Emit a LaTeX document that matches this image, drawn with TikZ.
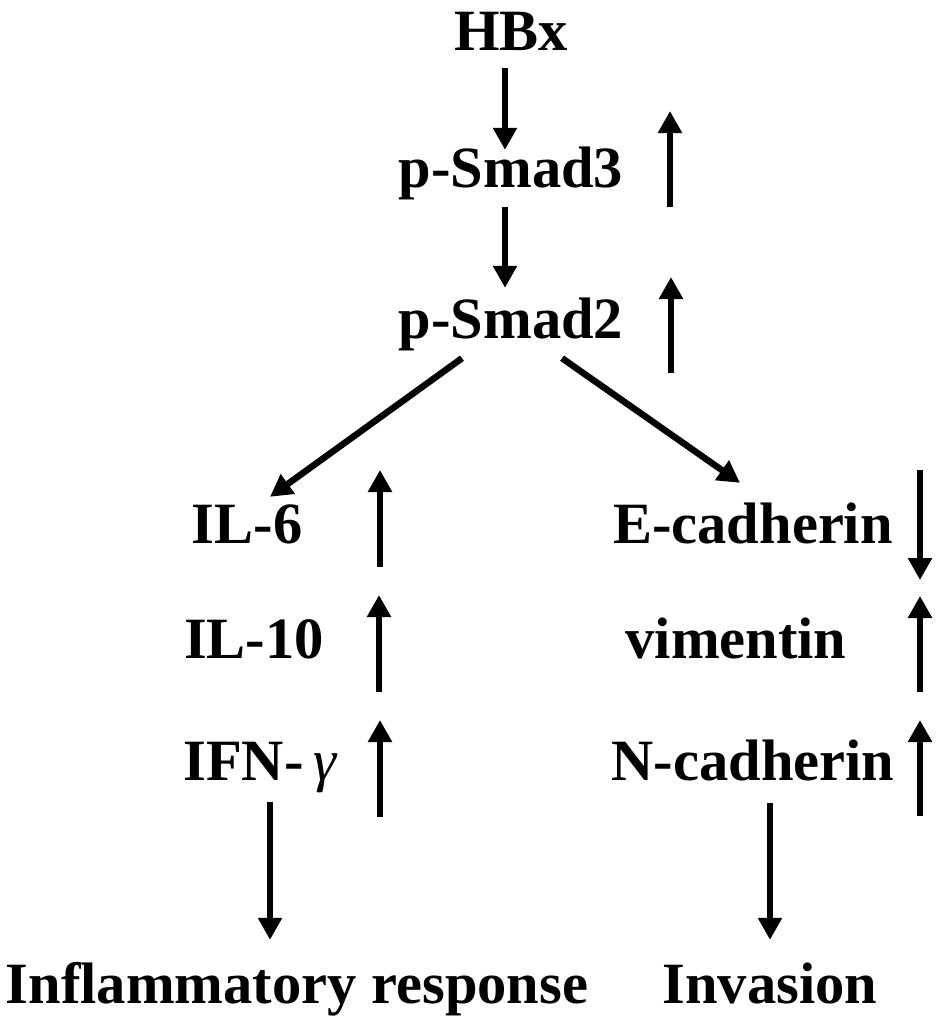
\documentclass[tikz,border=0pt]{standalone}
\usepackage{fontspec}
\setmainfont{Liberation Serif}
\usetikzlibrary{arrows.meta}
\tikzset{
  lbl/.style={font=\fontsize{58.5}{60}\selectfont\bfseries, inner sep=0pt, anchor=base,
              text height=40pt, text depth=12pt},
  arr/.style={line width=6.5pt, -{Triangle[width=23pt,length=22pt]}},
  ind/.style={line width=6.5pt, -{Triangle[width=23pt,length=22pt]}}
}
\begin{document}
\begin{tikzpicture}[x=1pt,y=-1pt]
\useasboundingbox (0,0) rectangle (945,1031);
% nodes
\node[lbl] (hbx)  at (511,50)   {HBx};
\node[lbl] (ps3)  at (511,187)  {p-Smad3};
\node[lbl] (ps2)  at (511,338)  {p-Smad2};
\node[lbl] (il6)  at (247,543)  {IL-6};
\node[lbl] (il10) at (254,658)  {IL-10};
\node[lbl] (ifn)  at (260,780)  {IFN-\,{\mdseries\itshape γ}};
\node[lbl] (ecad) at (753,543)  {E-cadherin};
\node[lbl] (vim)  at (736,658)  {vimentin};
\node[lbl] (ncad) at (753,780)  {N-cadherin};
\node[lbl] (infl) at (297,1003) {Inflammatory response};
\node[lbl] (inv)  at (770,1003) {Invasion};
% main flow
\draw[arr] ([xshift=-6pt,yshift=-6pt]hbx.south) -- ([xshift=-6pt,yshift=-3pt]ps3.north);
\draw[arr] ([xshift=-6pt,yshift=-8pt]ps3.south) -- ([xshift=-6pt,yshift=10pt]ps2.north);
\draw[arr] ([xshift=-49pt,yshift=-8pt]ps2.south) -- ([xshift=23pt,yshift=6pt]il6.north);
\draw[arr] ([xshift=51pt,yshift=-8pt]ps2.south) -- ([xshift=-13pt,yshift=20pt]ecad.north);
\draw[arr] ([xshift=10pt,yshift=-10pt]ifn.south) -- ([xshift=-27pt,yshift=23pt]infl.north);
\draw[arr] ([xshift=17pt,yshift=-11pt]ncad.south) -- ([yshift=23pt]inv.north);
% indicator arrows
\coordinate (u1a) at (670,207); \coordinate (u1b) at (670,111);
\coordinate (u2a) at (671,373); \coordinate (u2b) at (671,277);
\coordinate (u3a) at (380,567); \coordinate (u3b) at (380,470);
\coordinate (u4a) at (379,692); \coordinate (u4b) at (379,595);
\coordinate (u5a) at (380,817); \coordinate (u5b) at (380,720);
\coordinate (d6a) at (920,470); \coordinate (d6b) at (920,580);
\coordinate (u7a) at (920,692); \coordinate (u7b) at (920,596);
\coordinate (u8a) at (920,816); \coordinate (u8b) at (920,720);
\draw[ind] (u1a) -- (u1b);
\draw[ind] (u2a) -- (u2b);
\draw[ind] (u3a) -- (u3b);
\draw[ind] (u4a) -- (u4b);
\draw[ind] (u5a) -- (u5b);
\draw[ind] (d6a) -- (d6b);
\draw[ind] (u7a) -- (u7b);
\draw[ind] (u8a) -- (u8b);
\end{tikzpicture}
\end{document}
